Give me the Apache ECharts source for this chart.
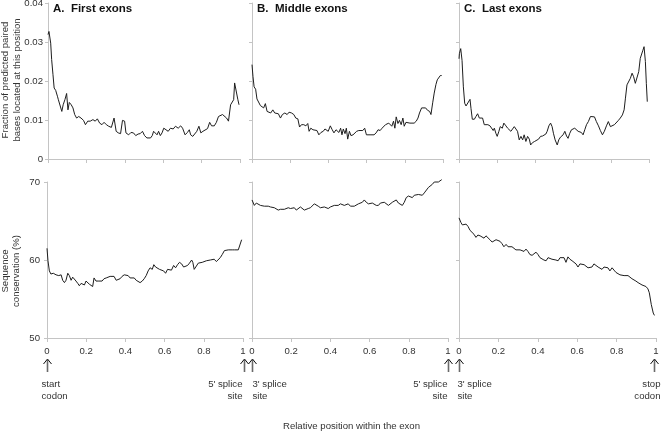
<!DOCTYPE html>
<html><head><meta charset="utf-8">
<script src="https://cdn.jsdelivr.net/npm/echarts@6/dist/echarts.min.js"></script>
<style>html,body{margin:0;padding:0;background:#fff}#c{width:661px;height:433px}</style>
</head><body><div id="c"></div>
<script>
// ---- Data ----
const panelTitles = ['A.  First exons', 'B.  Middle exons', 'C.  Last exons'];
const xTickLabels = ['0', '0.2', '0.4', '0.6', '0.8', '1'];
const fracTicks = [0, 0.01, 0.02, 0.03, 0.04];
const consTicks = [50, 60, 70];
const yTitleTop = 'Fraction of predicted paired\nbases located at this position';
const yTitleBottom = 'Sequence\nconservation (%)';
const xTitle = 'Relative position within the exon';
const arrowLabels = ['start\ncodon', "5' splice\nsite", "3' splice\nsite", "5' splice\nsite", "3' splice\nsite", 'stop\ncodon'];

// Top row: fraction of predicted paired bases
const posFirstPair = [0,.005,.014,.019,.026,.032,.040,.049,.054,.063,.072,.079,.088,.097,.104,.111,.121,.130,.139,.149,.160,.172,.185,.195,.207,.220,.234,.246,.257,.269,.281,.292,.304,.316,.330,.344,.355,.366,.378,.388,.399,.406,.420,.432,.445,.457,.469,.480,.492,.503,.515,.524,.534,.543,.550,.559,.568,.576,.585,.594,.603,.613,.626,.638,.652,.664,.678,.691,.701,.714,.726,.736,.743,.754,.764,.775,.786,.796,.807,.817,.831,.842,.852,.866,.877,.888,.898,.909,.919,.930,.940,.951,.960,.967,.972,.981,.989,.995];
const firstPair = [0.0319,0.0327,0.0297,0.0255,0.0216,0.0182,0.0176,0.0161,0.0152,0.0148,0.0122,0.0139,0.0152,0.0168,0.0126,0.0145,0.0139,0.0131,0.0114,0.0105,0.0109,0.0105,0.0099,0.0088,0.0097,0.0097,0.0101,0.0097,0.0103,0.0092,0.0088,0.0094,0.0088,0.0084,0.0081,0.0105,0.0071,0.0067,0.0065,0.0099,0.0097,0.0067,0.0062,0.0068,0.0067,0.0060,0.0064,0.0065,0.0071,0.0060,0.0054,0.0058,0.0054,0.0060,0.0071,0.0067,0.0062,0.0071,0.0060,0.0067,0.0079,0.0075,0.0071,0.0079,0.0077,0.0084,0.0079,0.0085,0.0079,0.0062,0.0068,0.0075,0.0062,0.0058,0.0062,0.0071,0.0084,0.0067,0.0071,0.0075,0.0078,0.0094,0.0085,0.0085,0.0094,0.0109,0.0105,0.0114,0.0118,0.0105,0.0097,0.0139,0.0135,0.0152,0.0195,0.0191,0.0152,0.0139];

const posMiddlePair = [0,.005,.011,.019,.026,.035,.044,.053,.061,.070,.079,.088,.098,.109,.119,.128,.138,.149,.159,.172,.184,.194,.207,.219,.229,.240,.249,.259,.271,.282,.292,.299,.308,.319,.329,.340,.350,.361,.373,.382,.391,.399,.410,.420,.429,.440,.447,.455,.464,.471,.478,.487,.494,.501,.510,.518,.529,.539,.548,.559,.569,.580,.590,.599,.608,.618,.627,.639,.650,.660,.671,.681,.690,.699,.708,.716,.725,.732,.741,.748,.755,.764,.772,.781,.790,.797,.806,.816,.827,.837,.849,.860,.869,.877,.888,.898,.909,.919,.930,.937,.946,.954,.963,.970,.979,.986,.993];
const middlePair = [0.0242,0.0212,0.0185,0.0179,0.0154,0.0152,0.0137,0.0139,0.0131,0.0142,0.0122,0.0126,0.0118,0.0126,0.0118,0.0114,0.0116,0.0105,0.0114,0.0118,0.0114,0.0120,0.0118,0.0114,0.0105,0.0103,0.0082,0.0088,0.0088,0.0085,0.0091,0.0071,0.0079,0.0075,0.0077,0.0073,0.0062,0.0068,0.0071,0.0077,0.0082,0.0071,0.0085,0.0075,0.0067,0.0075,0.0079,0.0068,0.0079,0.0062,0.0077,0.0065,0.0079,0.0051,0.0071,0.0060,0.0062,0.0060,0.0071,0.0073,0.0071,0.0073,0.0079,0.0062,0.0067,0.0062,0.0067,0.0062,0.0067,0.0075,0.0073,0.0079,0.0077,0.0088,0.0084,0.0092,0.0088,0.0084,0.0097,0.0079,0.0108,0.0091,0.0099,0.0088,0.0105,0.0084,0.0094,0.0094,0.0092,0.0091,0.0092,0.0097,0.0105,0.0118,0.0131,0.0133,0.0131,0.0125,0.0122,0.0114,0.0144,0.0169,0.0191,0.0203,0.0205,0.0214,0.0214];

const posLastPair = [0,.002,.009,.016,.023,.030,.037,.047,.058,.063,.070,.081,.089,.098,.107,.116,.124,.133,.142,.152,.163,.172,.180,.186,.194,.201,.210,.217,.228,.236,.247,.256,.264,.273,.282,.291,.299,.308,.317,.326,.335,.343,.352,.361,.370,.377,.387,.398,.408,.419,.429,.440,.450,.457,.464,.473,.482,.490,.497,.506,.517,.525,.534,.541,.548,.557,.566,.574,.583,.592,.601,.609,.618,.627,.636,.644,.653,.662,.671,.681,.692,.702,.713,.723,.734,.744,.755,.765,.776,.786,.797,.807,.818,.828,.839,.849,.860,.869,.876,.884,.893,.902,.911,.919,.928,.937,.946,.954,.961,.968,.974,.981,.986,.991];
const lastPair = [0.0257,0.0270,0.0283,0.0253,0.0185,0.0143,0.0136,0.0139,0.0153,0.0130,0.0102,0.0102,0.0109,0.0116,0.0105,0.0101,0.0105,0.0088,0.0085,0.0088,0.0085,0.0090,0.0073,0.0079,0.0066,0.0058,0.0071,0.0083,0.0079,0.0092,0.0085,0.0079,0.0077,0.0071,0.0066,0.0083,0.0079,0.0071,0.0049,0.0058,0.0049,0.0062,0.0045,0.0058,0.0051,0.0036,0.0042,0.0045,0.0049,0.0051,0.0058,0.0059,0.0062,0.0064,0.0071,0.0085,0.0092,0.0083,0.0066,0.0049,0.0036,0.0049,0.0056,0.0053,0.0062,0.0071,0.0059,0.0053,0.0066,0.0075,0.0077,0.0079,0.0083,0.0071,0.0066,0.0068,0.0062,0.0075,0.0088,0.0096,0.0109,0.0105,0.0108,0.0096,0.0085,0.0073,0.0062,0.0071,0.0085,0.0096,0.0083,0.0081,0.0088,0.0092,0.0099,0.0105,0.0113,0.0126,0.0156,0.0190,0.0193,0.0207,0.0220,0.0211,0.0194,0.0193,0.0224,0.0258,0.0255,0.0279,0.0288,0.0250,0.0194,0.0147];

// Bottom row: sequence conservation (%)
const posFirstCons = [0,.005,.012,.020,.032,.046,.060,.072,.080,.089,.097,.106,.114,.123,.131,.140,.148,.157,.165,.174,.182,.191,.199,.208,.216,.225,.233,.240,.250,.261,.271,.281,.291,.302,.312,.322,.332,.342,.353,.363,.373,.383,.394,.404,.414,.424,.434,.445,.455,.465,.475,.486,.496,.506,.516,.526,.537,.545,.554,.564,.574,.584,.595,.605,.615,.625,.635,.646,.656,.666,.676,.687,.697,.707,.717,.727,.738,.744,.751,.761,.772,.782,.792,.802,.813,.823,.833,.843,.853,.864,.874,.884,.894,.905,.915,.925,.935,.945,.956,.966,.976,.986,.993];
const firstCons = [61.5,59.9,58.6,58.2,58.3,58.1,58.0,58.1,57.4,57.1,57.4,58.3,58.0,57.4,57.8,57.6,57.3,57.0,56.7,57.0,57.1,56.8,57.3,57.1,56.9,56.7,56.6,57.7,57.3,57.3,57.3,57.3,57.6,57.7,57.6,57.9,58.1,57.9,57.4,57.4,57.6,57.9,58.1,58.3,58.0,57.7,57.6,57.7,57.4,57.3,57.1,57.3,57.6,58.0,58.6,59.0,58.8,59.4,59.1,59.1,58.8,59.0,58.6,58.3,58.8,59.0,58.7,59.3,59.0,59.4,59.7,59.5,59.1,59.0,59.3,59.6,60.0,59.7,58.8,58.8,59.6,59.7,59.7,59.8,59.9,59.8,60.0,59.9,60.1,59.8,60.0,60.3,60.7,61.2,61.3,61.3,61.2,61.3,61.3,61.2,61.3,61.3,62.6];

const posMiddleCons = [0,.012,.022,.032,.043,.053,.063,.073,.083,.094,.104,.114,.124,.134,.145,.155,.165,.175,.185,.196,.206,.216,.226,.236,.247,.257,.267,.277,.287,.298,.308,.318,.328,.338,.349,.359,.369,.379,.389,.400,.410,.420,.430,.440,.451,.461,.471,.481,.491,.502,.512,.522,.532,.543,.553,.563,.573,.583,.594,.604,.614,.624,.634,.645,.655,.665,.675,.685,.696,.706,.716,.726,.736,.747,.757,.767,.777,.787,.798,.808,.818,.828,.838,.849,.859,.869,.879,.889,.900,.910,.920,.930,.940,.951,.961,.968];
const middleCons = [67.7,67.0,67.3,67.4,67.0,66.8,66.9,66.8,66.9,66.8,66.6,66.7,66.5,66.4,66.5,66.4,66.5,66.7,66.7,66.6,66.8,66.7,66.4,66.6,66.8,66.9,66.4,66.6,66.6,66.7,66.9,67.2,67.0,66.9,66.7,66.8,66.8,66.8,66.6,66.8,67.0,67.0,67.0,67.0,67.2,67.0,67.0,66.8,67.2,66.9,67.0,66.9,66.8,67.2,67.2,67.4,67.7,67.4,67.2,67.0,67.3,67.3,67.0,67.0,67.3,67.4,67.4,67.2,67.0,67.2,67.4,67.6,67.7,67.3,67.1,67.0,67.4,68.0,68.2,68.1,68.0,68.3,68.4,68.4,68.6,68.3,68.6,68.8,69.3,69.4,69.7,70.0,70.0,70.0,70.0,70.3];

const posLastCons = [0,.010,.017,.025,.036,.046,.056,.066,.076,.086,.096,.107,.117,.127,.137,.147,.157,.168,.178,.188,.198,.208,.218,.228,.239,.249,.259,.269,.279,.289,.299,.310,.320,.330,.340,.350,.360,.371,.381,.391,.401,.411,.421,.431,.442,.452,.462,.472,.482,.492,.503,.513,.523,.533,.543,.553,.563,.574,.584,.594,.604,.614,.624,.635,.645,.655,.665,.675,.685,.695,.706,.716,.726,.736,.746,.756,.766,.777,.787,.797,.807,.817,.827,.838,.848,.858,.868,.878,.888,.898,.909,.919,.929,.939,.949,.959,.966,.976,.986,.992];
const lastCons = [65.4,64.8,64.5,64.7,64.6,64.3,63.8,63.7,63.3,62.9,63.2,63.1,62.9,62.8,63.1,62.9,62.6,62.3,62.5,62.6,62.6,62.4,62.1,61.7,62.0,61.7,61.8,61.7,61.5,61.3,61.5,61.3,61.4,61.1,61.4,61.1,60.7,60.6,60.7,61.0,60.7,60.3,60.1,60.0,59.9,60.3,60.4,60.1,60.0,60.0,59.9,60.3,60.4,60.3,59.7,60.4,60.1,59.9,59.7,59.5,59.1,59.5,59.4,59.4,59.3,59.0,58.8,59.1,59.5,59.5,59.1,59.0,58.8,59.1,59.3,59.0,58.6,59.0,58.7,58.4,58.2,58.1,58.1,58.0,58.2,58.0,57.8,57.6,57.4,57.3,57.1,57.0,56.8,56.7,56.6,56.3,55.8,54.3,53.2,52.9];

// ---- Chart ----
const FONT = '"Liberation Sans", Arial, sans-serif';
const TXT = '#333';
const AXC = '#c4c4c4';
const FS = 9.6;

const grids = [
  {left: 48, top: 3, width: 192, height: 156},
  {left: 252, top: 3, width: 191, height: 156},
  {left: 459, top: 3, width: 190, height: 156},
  {left: 47, top: 182, width: 196, height: 156},
  {left: 252, top: 182, width: 196, height: 156},
  {left: 459, top: 182, width: 197, height: 156}
].map(g => Object.assign({outerBoundsMode: 'none', containLabel: false}, g));

function pairs(xs, ys) {
  const n = Math.min(xs.length, ys.length);
  const out = [];
  for (let i = 0; i < n; i++) out.push([xs[i], ys[i]]);
  return out;
}

const xAxes = grids.map((g, i) => ({
  type: 'value', gridIndex: i, min: 0, max: 1, interval: 0.2,
  axisLine: {show: true, lineStyle: {color: AXC, width: 1}},
  axisTick: {show: true, length: 4, lineStyle: {color: AXC}},
  splitLine: {show: false},
  axisLabel: {show: i >= 3, margin: 8, color: TXT, fontFamily: FONT, fontSize: FS,
    formatter: v => xTickLabels[Math.round(v / 0.2)]}
}));

const yAxes = grids.map((g, i) => {
  const top = i < 3;
  const ticks = top ? fracTicks : consTicks;
  return {
    type: 'value', gridIndex: i,
    min: ticks[0], max: ticks[ticks.length - 1], interval: ticks[1] - ticks[0],
    axisLine: {show: true, lineStyle: {color: AXC, width: 1}},
    axisTick: {show: true, length: 3, lineStyle: {color: AXC}},
    splitLine: {show: false},
    axisLabel: {show: i === 0 || i === 3, margin: top ? 5 : 7, color: TXT, fontFamily: FONT, fontSize: FS,
      formatter: v => top ? String(+v.toFixed(2)) : String(Math.round(v))}
  };
});

const seriesData = [
  pairs(posFirstPair, firstPair), pairs(posMiddlePair, middlePair), pairs(posLastPair, lastPair),
  pairs(posFirstCons, firstCons), pairs(posMiddleCons, middleCons), pairs(posLastCons, lastCons)
];

const series = seriesData.map((d, i) => ({
  type: 'line', xAxisIndex: i, yAxisIndex: i, data: d,
  showSymbol: false, symbol: 'none', clip: false,
  lineStyle: {color: '#1e1e1e', width: 1}
}));

const chart = echarts.init(document.getElementById('c'), null, {renderer: 'canvas'});
chart.setOption({
  animation: false,
  backgroundColor: '#fff',
  textStyle: {fontFamily: FONT},
  grid: grids, xAxis: xAxes, yAxis: yAxes, series: series
});

// ---- Annotations anchored to axes ----
const graphics = [];
panelTitles.forEach((t, i) => {
  graphics.push({type: 'text', left: grids[i].left + 5, top: 3,
    style: {text: t, fontFamily: FONT, fontSize: 11.5, fontWeight: 'bold', fill: '#111'}});
});
graphics.push({type: 'text', x: 11.5, y: 80, rotation: Math.PI / 2,
  style: {text: yTitleTop, fontFamily: FONT, fontSize: FS, fill: TXT, align: 'center', verticalAlign: 'middle', lineHeight: 11.5}});
graphics.push({type: 'text', x: 11, y: 271, rotation: Math.PI / 2,
  style: {text: yTitleBottom, fontFamily: FONT, fontSize: FS, fill: TXT, align: 'center', verticalAlign: 'middle', lineHeight: 11.5}});

const leftX = chart.convertToPixel({xAxisIndex: 3}, 0);
const rightX = chart.convertToPixel({xAxisIndex: 5}, 1);
graphics.push({type: 'text', x: (leftX + rightX) / 2, y: 426,
  style: {text: xTitle, fontFamily: FONT, fontSize: FS, fill: TXT, align: 'center', verticalAlign: 'middle'}});

const baseY = chart.convertToPixel({yAxisIndex: 3}, 50);
const arrowSpecs = [
  {axis: 3, v: 0, dx: 0, align: 'left', tdx: -6},
  {axis: 3, v: 1, dx: 0.5, align: 'right', tdx: -2},
  {axis: 4, v: 0, dx: 0, align: 'left', tdx: 0},
  {axis: 4, v: 1, dx: -0.5, align: 'right', tdx: -1},
  {axis: 5, v: 0, dx: 0, align: 'left', tdx: -2},
  {axis: 5, v: 1, dx: -2, align: 'right', tdx: 6}
];
arrowSpecs.forEach((s, k) => {
  const ax = Math.round(chart.convertToPixel({xAxisIndex: s.axis}, s.v) + s.dx) + 0.5;
  const tip = baseY + 21;
  graphics.push({type: 'line', shape: {x1: ax, y1: tip + 1, x2: ax, y2: baseY + 34},
    style: {stroke: '#6a6a6a', lineWidth: 1.6}});
  graphics.push({type: 'polyline', shape: {points: [[ax - 4, tip + 5], [ax, tip], [ax + 4, tip + 5]]},
    style: {stroke: '#111', lineWidth: 1, fill: null}});
  graphics.push({type: 'text', x: ax + s.tdx, y: baseY + 40,
    style: {text: arrowLabels[k], fontFamily: FONT, fontSize: FS, fill: TXT, align: s.align, verticalAlign: 'top', lineHeight: 12}});
});

chart.setOption({graphic: graphics});
</script>
</body></html>
